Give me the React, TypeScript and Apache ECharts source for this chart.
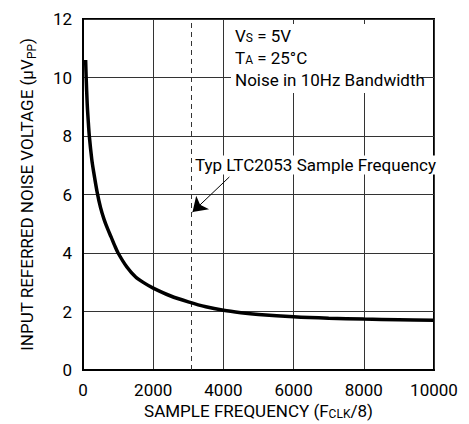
import React, { useEffect, useRef } from "react";
import * as echarts from "echarts";

const FREQ = [75, 90, 120, 150, 180, 250, 300, 400, 500, 600, 700, 800, 900, 1000, 1250, 1500, 1750, 2000, 2500, 3000, 3500, 4000, 4500, 5000, 6000, 7000, 8000, 9000, 10000];
const NOISE = [10.6, 10.0, 9.1, 8.5, 8.0, 7.2, 6.8, 6.1, 5.55, 5.15, 4.83, 4.55, 4.26, 4.0, 3.52, 3.18, 2.97, 2.8, 2.53, 2.33, 2.16, 2.04, 1.96, 1.9, 1.82, 1.77, 1.74, 1.72, 1.7];
const X_TICKS = [0, 2000, 4000, 6000, 8000, 10000];
const Y_TICKS = [0, 2, 4, 6, 8, 10, 12];
const TYP_SAMPLE_FREQ = 3080;
const ARROW_FROM = [4170, 6.6];
const ARROW_TO = [3120, 5.4];

const FONT = "Roboto, 'Liberation Sans', sans-serif";

export default function App() {
  const ref = useRef<HTMLDivElement>(null);
  useEffect(() => {
    if (!ref.current) return;
    const chart = echarts.init(ref.current, null, { renderer: "svg" });
    const sub = { fontFamily: FONT, fontSize: 12, lineHeight: 12, verticalAlign: "bottom", color: "#000" };
    const norm = { fontFamily: FONT, fontSize: 17, lineHeight: 22, verticalAlign: "bottom", color: "#000" };
    chart.setOption({
      animation: false,
      backgroundColor: "#fff",
      grid: {
        left: 83, right: 35, top: 19, bottom: 54,
        containLabel: false, outerBoundsMode: "none",
        show: true, borderColor: "#000", borderWidth: 2,
      },
      xAxis: {
        type: "value",
        min: X_TICKS[0],
        max: X_TICKS[X_TICKS.length - 1],
        interval: 2000,
        axisLine: { show: true, lineStyle: { color: "#000", width: 2 } },
        axisTick: { show: false },
        splitLine: { show: true, lineStyle: { color: "#333", width: 1 } },
        axisLabel: { fontFamily: FONT, fontSize: 17, color: "#000", margin: 11, formatter: (v: number) => String(v) },
        name: "SAMPLE FREQUENCY (F{s|CLK}/8)",
        nameLocation: "middle",
        nameGap: 35,
        nameTextStyle: { fontFamily: FONT, fontSize: 17, color: "#000", lineHeight: 17, verticalAlign: "bottom", rich: { s: sub } },
      },
      yAxis: {
        type: "value",
        min: Y_TICKS[0],
        max: Y_TICKS[Y_TICKS.length - 1],
        interval: 2,
        axisLine: { show: true, lineStyle: { color: "#000", width: 2 } },
        axisTick: { show: false },
        splitLine: { show: true, lineStyle: { color: "#333", width: 1 } },
        axisLabel: { fontFamily: FONT, fontSize: 17, color: "#000", margin: 11 },
        name: "INPUT REFERRED NOISE VOLTAGE (\u00B5V{s|PP})",
        nameLocation: "middle",
        nameGap: 45,
        nameRotate: 90,
        nameTextStyle: { fontFamily: FONT, fontSize: 17, color: "#000", lineHeight: 22, verticalAlign: "bottom", rich: { s: sub } },
      },
      series: [
        {
          type: "line",
          data: FREQ.map((f, i) => [f, NOISE[i]]),
          smooth: 0.3,
          showSymbol: false,
          lineStyle: { color: "#000", width: 3.5 },
          z: 5,
          markLine: {
            silent: true,
            animation: false,
            symbol: ["none", "none"],
            label: { show: false },
            data: [
              {
                xAxis: TYP_SAMPLE_FREQ,
                lineStyle: { type: [5, 4], color: "#333", width: 1 },
              },
              [
                { coord: ARROW_FROM, symbol: "none", lineStyle: { type: "solid", color: "#000", width: 1 } },
                { coord: ARROW_TO, symbol: "arrow", symbolSize: 14 },
              ],
            ],
          },
        },
      ],
      graphic: [
        { type: "rect", shape: { x: 231, y: 24, width: 190, height: 69 }, style: { fill: "#fff" }, z: 10 },
        {
          type: "text",
          x: 235,
          y: 22,
          z: 11,
          style: {
            text: "{n|V}{s|S}{n| = 5V}\n{n|T}{s|A}{n| = 25°C}\n{n|Noise in 10Hz Bandwidth}",
            rich: { n: norm, s: sub },
            fill: "#000",
          },
        },
        {
          type: "text",
          x: 194,
          y: 165,
          z: 11,
          style: {
            text: "Typ LTC2053 Sample Frequency",
            fontFamily: FONT,
            fontSize: 17,
            fill: "#000",
            verticalAlign: "middle",
            backgroundColor: "#fff",
            padding: [1, 1, 1, 1],
          },
        },
      ],
    });
    return () => chart.dispose();
  }, []);
  return <div ref={ref} style={{ position: "fixed", left: 0, top: 0, width: 469, height: 424, background: "#fff" }} />;
}
